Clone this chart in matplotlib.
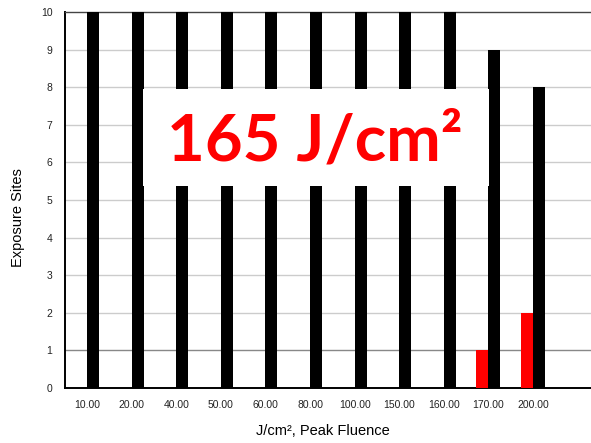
import matplotlib
matplotlib.use("Agg")
import matplotlib.pyplot as plt
import numpy as np
from matplotlib.patches import Rectangle

# data
fluence = ['10.00', '20.00', '40.00', '50.00', '60.00', '80.00',
           '100.00', '150.00', '160.00', '170.00', '200.00']
sites_total = [10, 10, 10, 10, 10, 10, 10, 10, 10, 9, 8]   # black bars
sites_damaged = [0, 0, 0, 0, 0, 0, 0, 0, 0, 1, 2]           # red bars
yticks = list(range(0, 11))

plt.rcParams['font.family'] = ['Liberation Sans', 'DejaVu Sans']

fig = plt.figure(figsize=(5.91, 4.43), dpi=100)
ax = fig.add_axes([65 / 591, 1 - 388 / 443, 526 / 591, 376 / 443])

x = np.arange(len(fluence))
w = 0.27
ax.bar(x - w / 2, sites_damaged, width=w, color='#ff0000', zorder=3)
ax.bar(x + w / 2, sites_total, width=w, color='black', zorder=3)

ax.set_xlim(-0.494, 11.3)
ax.set_ylim(0, 10)
ax.set_yticks(yticks)
ax.set_xticks(x)
ax.set_xticklabels(fluence, fontsize=7)
ax.tick_params(axis='both', length=0, labelsize=7.5, colors='#222222')
ax.tick_params(axis='x', pad=9)
ax.tick_params(axis='y', pad=9)

# horizontal grid
for v in yticks[1:10]:
    ax.axhline(v, color='#888888' if v == 1 else '#cccccc', lw=1, zorder=1)

ax.spines['right'].set_visible(False)
ax.spines['top'].set_color('#444444')
ax.spines['top'].set_linewidth(1)
ax.spines['left'].set_linewidth(1.4)
ax.spines['bottom'].set_linewidth(1.4)

ax.set_ylabel('Exposure Sites', fontsize=10.5)
ax.yaxis.set_label_coords(-40 / 526, 0.452)
ax.set_xlabel('J/cm², Peak Fluence', fontsize=10.5)
ax.xaxis.set_label_coords(0.49, -36 / 376)

# overlaid white label box
fig.patches.append(Rectangle((143 / 591, 1 - 186 / 443), 346 / 591, 97 / 443,
                             transform=fig.transFigure, facecolor='white',
                             edgecolor='none', zorder=10))
fig.text(315 / 591, 1 - 161 / 443, '165 J/cm²', color='#ff0000', fontsize=47,
         fontweight='bold', family=['Lato', 'DejaVu Sans'],
         ha='center', va='baseline', zorder=11)

fig.savefig('out.png', dpi=100)
